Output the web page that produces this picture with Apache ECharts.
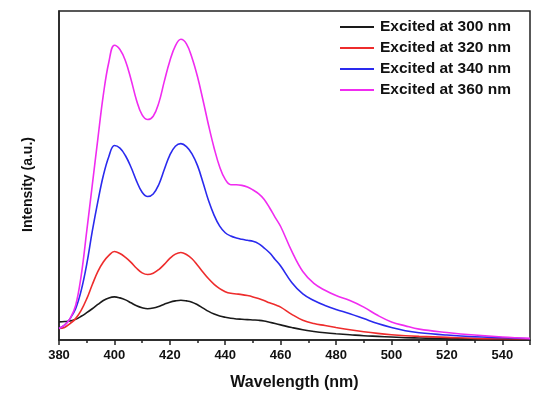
<!DOCTYPE html>
<html>
<head>
<meta charset="utf-8">
<script src="https://cdn.jsdelivr.net/npm/echarts@6/dist/echarts.min.js"></script>
<style>
    html, body { margin: 0; padding: 0; background: #fff; }
    #chart { width: 537px; height: 396px; }
</style>
</head>
<body>
<div id="chart"></div>
<script>
'use strict';
// wavelength (nm), shared by all four spectra
const wavelength = [380, 382, 384, 386, 388, 390, 392, 394, 396, 398,
    400, 402, 404, 406, 408, 410, 412, 414, 416, 418,
    420, 422, 424, 426, 428, 430, 432, 434, 436, 438,
    440, 442, 444, 446, 448, 450, 452, 454, 456, 458,
    460, 464, 468, 472, 476, 480, 485, 490, 495, 500,
    505, 510, 520, 530, 540, 550];

const ex300 = [5.5, 5.6, 5.8, 6.3, 7.2, 8.3, 9.5, 10.8, 12, 12.8,
    13.1, 12.8, 12.2, 11.3, 10.4, 9.8, 9.5, 9.7, 10.2, 10.9,
    11.5, 11.9, 12.1, 11.9, 11.5, 10.7, 9.7, 8.7, 7.9, 7.3,
    6.9, 6.6, 6.4, 6.3, 6.2, 6.1, 6, 5.8, 5.4, 5,
    4.6, 3.8, 3.1, 2.6, 2.2, 1.9, 1.6, 1.3, 1.1, 0.9,
    0.7, 0.6, 0.4, 0.3, 0.2, 0.2];

const ex320 = [3.5, 3.8, 5, 6.5, 9, 12.5, 16.8, 20.8, 23.7, 25.7,
    26.9, 26.3, 25.1, 23.6, 21.8, 20.4, 19.9, 20.3, 21.4, 23,
    24.8, 26.1, 26.6, 26, 24.7, 22.7, 20.6, 18.6, 16.9, 15.6,
    14.7, 14.2, 14, 13.8, 13.5, 13.1, 12.6, 12, 11.3, 10.7,
    10, 7.8, 6, 5, 4.4, 3.8, 3.1, 2.5, 2, 1.6,
    1.3, 1.1, 0.8, 0.5, 0.4, 0.3];

const ex340 = [3.5, 4.5, 6.5, 9.5, 15, 23, 33, 42, 50, 55.8,
    59.1, 58.3, 56, 52.5, 48.3, 44.9, 43.6, 44.4, 47.2, 51.8,
    56.2, 58.9, 59.7, 58.8, 56.6, 53, 47.8, 42.3, 37.9, 34.6,
    32.6, 31.6, 31, 30.6, 30.3, 30, 29.3, 28, 26.5, 24.5,
    22.5, 17.5, 14, 12, 10.5, 9.3, 8, 6.5, 5, 3.8,
    2.8, 2.2, 1.5, 1, 0.7, 0.4];

const ex360 = [3.5, 4.5, 6.5, 10.5, 19.5, 33, 47, 61, 74.5, 84.5,
    89.6, 88.3, 84.8, 79.2, 72.8, 68.4, 67, 68, 72, 78.6,
    84.8, 89.4, 91.4, 90, 85.8, 80, 72.8, 65.2, 58.3, 52.6,
    48.8, 47.2, 47.2, 47, 46.5, 45.6, 44.5, 42.8, 40.2, 37.3,
    34.5, 27, 20.8, 17.2, 15.1, 13.5, 12, 10, 7.5, 5.5,
    4.3, 3.3, 2.3, 1.5, 0.9, 0.5];

const seriesNames = ['Excited at 300 nm', 'Excited at 320 nm', 'Excited at 340 nm', 'Excited at 360 nm'];
const seriesValues = [ex300, ex320, ex340, ex360];
const seriesColors = ['#1a1a1a', '#ee2c2c', '#2a2aee', '#f02cf0'];

let dom = document.getElementById('chart');
let myChart = echarts.init(dom, null, { renderer: 'canvas' });

let series = seriesNames.map(function (name, i) {
    return {
        name: name,
        type: 'line',
        smooth: 0.4,
        showSymbol: false,
        symbol: 'none',
        lineStyle: { color: seriesColors[i], width: 1.6 },
        itemStyle: { color: seriesColors[i] },
        data: wavelength.map(function (w, j) { return [w, seriesValues[i][j]]; })
    };
});

let option = {
    animation: false,
    grid: {
        left: 59,
        right: 7,
        top: 11,
        bottom: 55,
        show: true,
        borderColor: '#222',
        borderWidth: 1.5
    },
    legend: {
        orient: 'vertical',
        left: 335,
        top: 14,
        icon: 'rect',
        itemWidth: 34,
        itemHeight: 2,
        itemGap: 5,
        textStyle: {
            color: '#111',
            fontFamily: 'Liberation Sans',
            fontWeight: 'bold',
            fontSize: 15.5,
            lineHeight: 14,
            padding: [0, 0, 0, 1]
        },
        data: seriesNames
    },
    xAxis: {
        type: 'value',
        min: 380,
        max: 550,
        interval: 20,
        name: 'Wavelength (nm)',
        nameLocation: 'middle',
        nameGap: 35,
        nameTextStyle: {
            color: '#111',
            fontFamily: 'Liberation Sans',
            fontWeight: 'bold',
            fontSize: 16
        },
        axisLine: { lineStyle: { color: '#222', width: 1.5 } },
        axisTick: { show: true, inside: false, length: 5, lineStyle: { color: '#222', width: 1.5 } },
        minorTick: { show: true, splitNumber: 2, length: 3, lineStyle: { color: '#222', width: 1.5 } },
        splitLine: { show: false },
        axisLabel: {
            color: '#111',
            fontFamily: 'Liberation Sans',
            fontWeight: 'bold',
            fontSize: 13,
            margin: 9,
            formatter: function (v) { return v % 20 === 0 ? String(v) : ''; }
        }
    },
    yAxis: {
        type: 'value',
        min: 0,
        max: 100,
        name: 'Intensity (a.u.)',
        nameLocation: 'middle',
        nameGap: 24,
        nameTextStyle: {
            color: '#111',
            fontFamily: 'Liberation Sans',
            fontWeight: 'bold',
            fontSize: 14,
            padding: [0, 18, 0, 0]
        },
        axisLine: { show: true, lineStyle: { color: '#222', width: 1.5 } },
        axisTick: { show: false },
        axisLabel: { show: false },
        splitLine: { show: false }
    },
    series: series
};

if (option && typeof option === 'object') {
    myChart.setOption(option, true);
}
</script>
</body>
</html>
